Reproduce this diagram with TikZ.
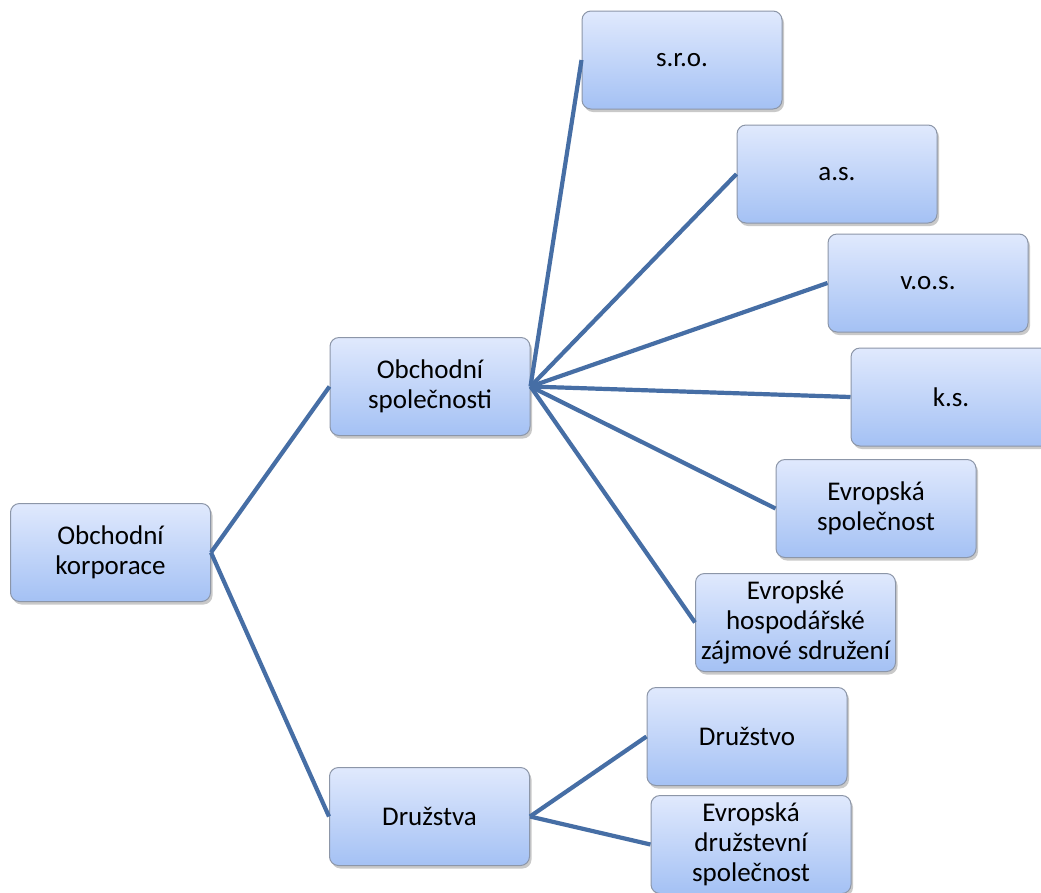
\documentclass[tikz,border=0pt]{standalone}
\usepackage{fontspec}
\setmainfont{Carlito}
\usetikzlibrary{shadows}
\definecolor{linec}{RGB}{70,110,165}
\definecolor{boxtop}{RGB}{224,233,253}
\definecolor{boxbot}{RGB}{164,193,244}
\definecolor{boxborder}{RGB}{140,150,168}
\tikzset{
  box/.style={draw=boxborder, line width=1pt, rounded corners=9pt,
    top color=boxtop, bottom color=boxbot,
    minimum width=200pt, minimum height=98pt, inner sep=1pt, align=center,
    font=\fontsize{27}{30}\selectfont,
    drop shadow={shadow xshift=2pt, shadow yshift=-3pt, opacity=0.35, fill=black!60}},
  conn/.style={draw=linec, line width=4.2pt}
}
\begin{document}
\begin{tikzpicture}[x=1pt,y=-1pt]
\useasboundingbox (0,0) rectangle (1041,892);
\clip (0,0) rectangle (1041,892);
\fill[white] (0,0) rectangle (1041,892);
\node[box] (root) at (110.5,552.5) {Obchodní\\korporace};
\node[box] (os) at (430,386.5) {Obchodní\\společnosti};
\node[box] (dr) at (429.5,816.5) {Družstva};
\node[box] (sro) at (682,60) {s.r.o.};
\node[box] (as) at (837,174) {a.s.};
\node[box] (vos) at (928,283) {v.o.s.};
\node[box] (ks) at (951,397) {k.s.};
\node[box] (es) at (876,508.5) {Evropská\\společnost};
\node[box] (ehzs) at (795.5,622.5) {Evropské\\hospodářské\\zájmové sdružení};
\node[box] (dro) at (747,736.5) {Družstvo};
\node[box] (eds) at (751,844.5) {Evropská\\družstevní\\společnost};
\draw[conn] (root.east) -- (os.west);
\draw[conn] (root.east) -- (dr.west);
\foreach \c in {sro,as,vos,ks,es,ehzs} \draw[conn] (os.east) -- (\c.west);
\foreach \c in {dro,eds} \draw[conn] (dr.east) -- (\c.west);
\end{tikzpicture}
\end{document}
